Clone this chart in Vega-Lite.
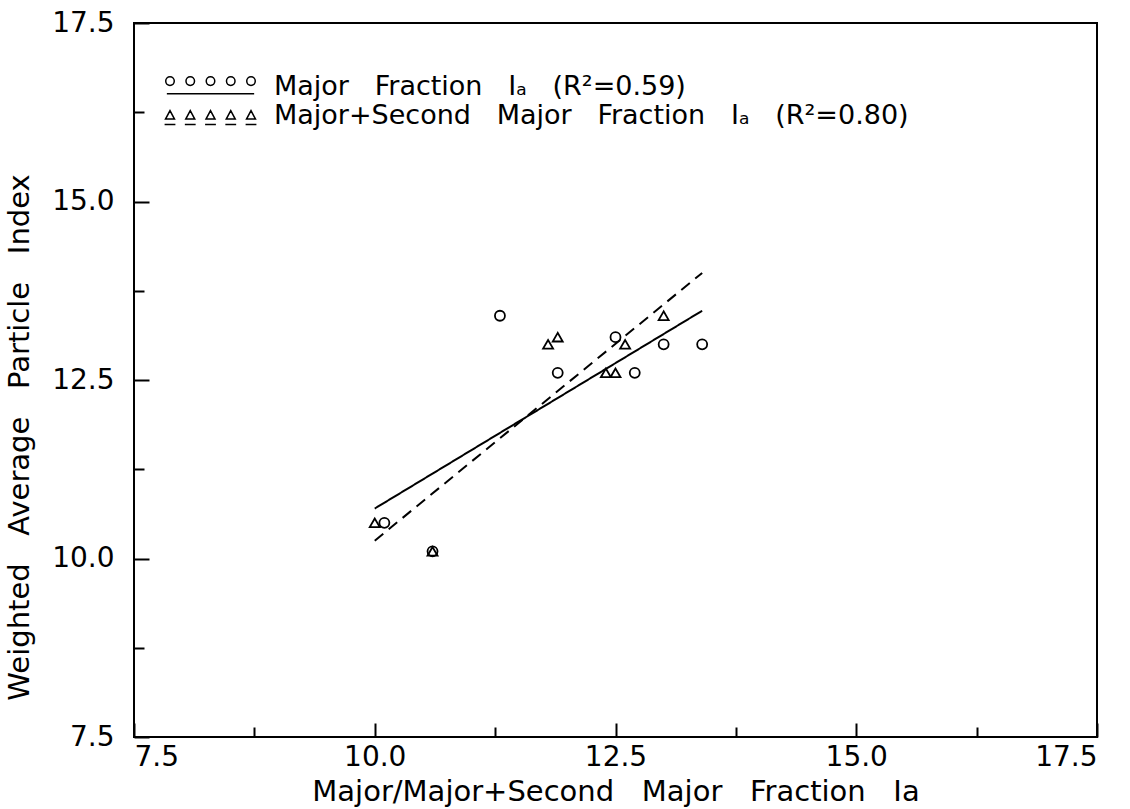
{
  "$schema": "https://vega.github.io/schema/vega-lite/v6.json",
  "width": 963,
  "height": 714,
  "autosize": {"type": "none"},
  "padding": {"left": 134, "top": 23, "right": 33, "bottom": 72},
  "background": "white",
  "config": {"view": {"stroke": "black", "strokeWidth": 2}, "font": "DejaVu Sans"},
  "datasets": {
    "points": [
      {"series": "Major Fraction Iₐ (R²=0.59)", "x": 11.3, "y": 13.4},
      {"series": "Major Fraction Iₐ (R²=0.59)", "x": 12.5, "y": 13.1},
      {"series": "Major Fraction Iₐ (R²=0.59)", "x": 13.0, "y": 13.0},
      {"series": "Major Fraction Iₐ (R²=0.59)", "x": 13.4, "y": 13.0},
      {"series": "Major Fraction Iₐ (R²=0.59)", "x": 11.9, "y": 12.6},
      {"series": "Major Fraction Iₐ (R²=0.59)", "x": 12.7, "y": 12.6},
      {"series": "Major Fraction Iₐ (R²=0.59)", "x": 10.1, "y": 10.5},
      {"series": "Major Fraction Iₐ (R²=0.59)", "x": 10.6, "y": 10.1},
      {"series": "Major+Second Major Fraction Iₐ (R²=0.80)", "x": 11.8, "y": 13.0},
      {"series": "Major+Second Major Fraction Iₐ (R²=0.80)", "x": 11.9, "y": 13.1},
      {"series": "Major+Second Major Fraction Iₐ (R²=0.80)", "x": 12.6, "y": 13.0},
      {"series": "Major+Second Major Fraction Iₐ (R²=0.80)", "x": 13.0, "y": 13.4},
      {"series": "Major+Second Major Fraction Iₐ (R²=0.80)", "x": 12.4, "y": 12.6},
      {"series": "Major+Second Major Fraction Iₐ (R²=0.80)", "x": 12.5, "y": 12.6},
      {"series": "Major+Second Major Fraction Iₐ (R²=0.80)", "x": 10.0, "y": 10.5},
      {"series": "Major+Second Major Fraction Iₐ (R²=0.80)", "x": 10.6, "y": 10.1}
    ],
    "lines": [
      {"series": "Major Fraction Iₐ (R²=0.59)", "x": 10.0, "y": 10.7},
      {"series": "Major Fraction Iₐ (R²=0.59)", "x": 13.4, "y": 13.47},
      {"series": "Major+Second Major Fraction Iₐ (R²=0.80)", "x": 10.0, "y": 10.25},
      {"series": "Major+Second Major Fraction Iₐ (R²=0.80)", "x": 13.4, "y": 14.0}
    ]
  },
  "layer": [
    {
      "data": {"name": "points"},
      "mark": {"type": "point", "filled": false, "color": "black", "opacity": 1, "strokeWidth": 1.8, "size": 100},
      "encoding": {
        "x": {
          "field": "x", "type": "quantitative",
          "scale": {"domain": [7.5, 17.5], "nice": false, "zero": false},
          "axis": {
            "orient": "bottom",
            "values": [7.5, 10, 12.5, 15, 17.5],
            "format": ".1f",
            "tickSize": -14, "tickWidth": 2, "tickColor": "black",
            "domain": false, "grid": false,
            "labelFontSize": 28, "labelColor": "black", "labelPadding": 20,
            "title": "Major/Major+Second\u00a0\u00a0 Major\u00a0\u00a0 Fraction\u00a0\u00a0 Ia",
            "titleFontSize": 29, "titleFontWeight": "normal", "titleColor": "black", "titlePadding": 6
          }
        },
        "y": {
          "field": "y", "type": "quantitative",
          "scale": {"domain": [7.5, 17.5], "nice": false, "zero": false},
          "axis": {
            "orient": "left",
            "values": [7.5, 10, 12.5, 15, 17.5],
            "format": ".1f",
            "tickSize": -15, "tickWidth": 2, "tickColor": "black",
            "domain": false, "grid": false,
            "labelFontSize": 28, "labelColor": "black", "labelPadding": 35,
            "title": "Weighted\u00a0\u00a0 Average\u00a0\u00a0 Particle\u00a0\u00a0 Index",
            "titleFontSize": 29, "titleFontWeight": "normal", "titleColor": "black",
            "titleX": -100, "titleY": 414
          }
        },
        "shape": {
          "field": "series", "type": "nominal",
          "scale": {"domain": ["Major Fraction Iₐ (R²=0.59)", "Major+Second Major Fraction Iₐ (R²=0.80)"], "range": ["circle", "triangle-up"]},
          "legend": null
        }
      }
    },
    {
      "data": {"name": "lines"},
      "mark": {"type": "line", "color": "black", "strokeWidth": 2},
      "encoding": {
        "x": {
          "field": "x", "type": "quantitative",
          "axis": {
            "orient": "bottom",
            "values": [8.75, 11.25, 13.75, 16.25],
            "labels": false, "title": null,
            "tickSize": -10, "tickWidth": 2, "tickColor": "black",
            "domain": false, "grid": false
          }
        },
        "y": {
          "field": "y", "type": "quantitative",
          "axis": {
            "orient": "left",
            "values": [8.75, 11.25, 13.75, 16.25],
            "labels": false, "title": null,
            "tickSize": -10, "tickWidth": 2, "tickColor": "black",
            "domain": false, "grid": false
          }
        },
        "detail": {"field": "series", "type": "nominal"},
        "strokeDash": {
          "condition": {"test": "indexof(datum.series, 'Second') >= 0", "value": [11, 7]},
          "value": [1, 0]
        }
      }
    },
    {
      "data": {"name": "lines"},
      "transform": [{"filter": "false"}],
      "mark": {"type": "point", "filled": false, "color": "black", "opacity": 1, "strokeWidth": 1.5},
      "encoding": {
        "x": {"field": "x", "type": "quantitative", "axis": null},
        "y": {"field": "y", "type": "quantitative", "axis": null},
        "shape": {
          "field": "series", "type": "nominal",
          "scale": {
            "domain": ["Major Fraction Iₐ (R²=0.59)", "Major+Second Major Fraction Iₐ (R²=0.80)"],
            "range": [
              "M-8.955,-1.08a0.855,0.855 0 1,0 1.71,0a0.855,0.855 0 1,0 -1.71,0M-4.905,-1.08a0.855,0.855 0 1,0 1.71,0a0.855,0.855 0 1,0 -1.71,0M-0.855,-1.08a0.855,0.855 0 1,0 1.71,0a0.855,0.855 0 1,0 -1.71,0M3.195,-1.08a0.855,0.855 0 1,0 1.71,0a0.855,0.855 0 1,0 -1.71,0M7.245,-1.08a0.855,0.855 0 1,0 1.71,0a0.855,0.855 0 1,0 -1.71,0M-8.73,1.44L8.73,1.44",
              "M-8.1,-0.99L-7.2,0.72L-9,0.72ZM-4.05,-0.99L-3.15,0.72L-4.95,0.72ZM0,-0.99L0.9,0.72L-0.9,0.72ZM4.05,-0.99L4.95,0.72L3.15,0.72ZM8.1,-0.99L9,0.72L7.2,0.72ZM-9.18,1.8L-7.02,1.8M-5.13,1.8L-2.97,1.8M-1.08,1.8L1.08,1.8M2.97,1.8L5.13,1.8M7.02,1.8L9.18,1.8"
            ]
          },
          "legend": {
            "title": null,
            "orient": "top-left",
            "offset": 50,
            "padding": 0,
            "symbolSize": 100,
            "symbolStrokeWidth": 1.5,
            "symbolStrokeColor": "black",
            "symbolFillColor": "transparent",
            "symbolOffset": 13,
            "labelFontSize": 27,
            "labelFont": "DejaVu Sans",
            "labelColor": "black",
            "labelLimit": 1000,
            "labelOffset": 50,
            "rowPadding": 1,
            "labelExpr": "indexof(datum.value, 'Second') < 0 ? 'Major\u00a0\u00a0 Fraction\u00a0\u00a0 Iₐ\u00a0\u00a0 (R²=0.59)' : 'Major+Second\u00a0\u00a0 Major\u00a0\u00a0 Fraction\u00a0\u00a0 Iₐ\u00a0\u00a0 (R²=0.80)'"
          }
        }
      }
    }
  ],
  "resolve": {"axis": {"x": "independent", "y": "independent"}, "scale": {"shape": "independent"}}
}
